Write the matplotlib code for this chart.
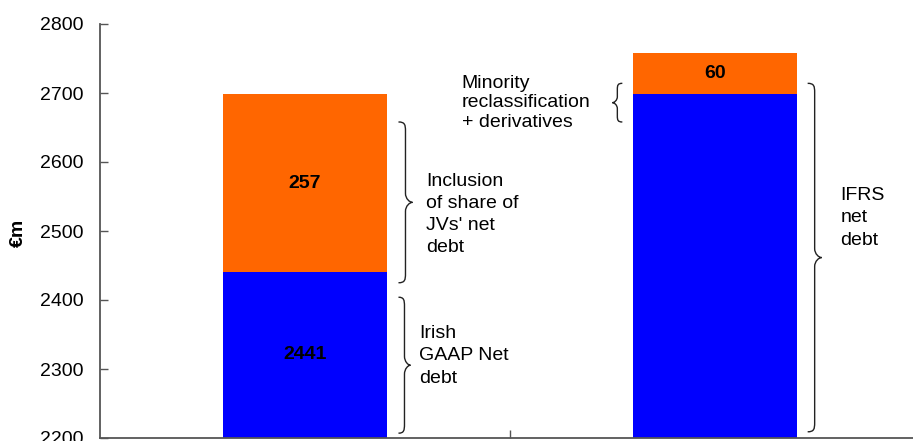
import matplotlib
matplotlib.use("Agg")
import matplotlib.pyplot as plt
from matplotlib.path import Path
from matplotlib.patches import PathPatch

plt.rcParams['font.family'] = ['Liberation Sans', 'DejaVu Sans']

# Net debt bridge: Irish GAAP -> IFRS (EUR m)
categories = ["Irish GAAP", "IFRS"]
base_values = [2441, 2698]
adjustments = [257, 60]
base_labels = ["2441", None]
adj_labels = ["257", "60"]
y_ticks = [2200, 2300, 2400, 2500, 2600, 2700, 2800]

BLUE = "#0000FF"
ORANGE = "#FF6600"
FS = 14

fig = plt.figure(figsize=(9.13, 4.41), dpi=100)
ax = fig.add_axes([100 / 913, 3 / 441, 820 / 913, 414 / 441])

x = list(range(len(categories)))
ax.bar(x, base_values, width=0.4, color=BLUE, zorder=2)
ax.bar(x, adjustments, bottom=base_values, width=0.4, color=ORANGE, zorder=2)

ax.set_xlim(-0.5, 1.5)
ax.set_ylim(y_ticks[0], y_ticks[-1])
ax.set_yticks(y_ticks)
ax.set_xticks([0.5])
ax.set_xticklabels([])

ylo = ax.get_ylim()[0]
for xi, b, a, bl, al in zip(x, base_values, adjustments, base_labels, adj_labels):
    if bl:
        ax.text(xi, (max(ylo, 0) + b) / 2, bl, ha="center", va="center",
                fontsize=FS, fontweight="bold", zorder=3)
    if al:
        ax.text(xi, b + a / 2, al, ha="center", va="center",
                fontsize=FS, fontweight="bold", zorder=3)

for s in ("top", "right"):
    ax.spines[s].set_visible(False)
for s in ("left", "bottom"):
    ax.spines[s].set_color("#555555")
    ax.spines[s].set_linewidth(1.3)
ax.tick_params(axis="y", direction="in", length=6, width=1, color="#555555",
               labelsize=FS, pad=12)
ax.tick_params(axis="x", direction="in", length=6, width=1, color="#555555")

fig.text(18 / 913, 1 - 233 / 441, "€m", rotation=90, ha="center", va="center",
         fontsize=FS, fontweight="bold")


def brace(ax, xpos, y0, y1, depth_px, r_px=9, lw=1.0):
    """Curly brace spanning y0..y1 (data) at xpos; depth_px > 0 points right."""
    fig.canvas.draw()
    (px, pb) = ax.transData.transform((xpos, y0))
    (_, pt) = ax.transData.transform((xpos, y1))
    w = depth_px
    h = w / 2
    ym = (pb + pt) / 2
    r = r_px
    verts = [
        (px, pt),
        (px + h * 0.9, pt), (px + h, pt - r * 0.3), (px + h, pt - r),
        (px + h, ym + r),
        (px + h, ym + r * 0.4), (px + w * 0.8, ym), (px + w, ym),
        (px + w * 0.8, ym), (px + h, ym - r * 0.4), (px + h, ym - r),
        (px + h, pb + r),
        (px + h, pb + r * 0.3), (px + h * 0.9, pb), (px, pb),
    ]
    codes = [Path.MOVETO,
             Path.CURVE4, Path.CURVE4, Path.CURVE4,
             Path.LINETO,
             Path.CURVE4, Path.CURVE4, Path.CURVE4,
             Path.CURVE4, Path.CURVE4, Path.CURVE4,
             Path.LINETO,
             Path.CURVE4, Path.CURVE4, Path.CURVE4]
    patch = PathPatch(Path(verts, codes), facecolor="none", edgecolor="#222222",
                      lw=lw, transform=None, clip_on=False)
    fig.add_artist(patch)


brace(ax, 0.228, 2425, 2658, 14)
brace(ax, 0.228, 2207, 2404, 12)
brace(ax, 0.774, 2658, 2714, -10, r_px=6)
brace(ax, 1.226, 2209, 2714, 14)

ax.text(0.296, 2524, "Inclusion\nof share of\nJVs' net\ndebt", ha="left",
        va="center", fontsize=FS, linespacing=1.4)
ax.text(0.279, 2319, "Irish\nGAAP Net\ndebt", ha="left", va="center",
        fontsize=FS, linespacing=1.4)
ax.text(0.382, 2686, "Minority\nreclassification\n+ derivatives", ha="left",
        va="center", fontsize=FS, linespacing=1.2)
ax.text(1.306, 2519, "IFRS\nnet\ndebt", ha="left", va="center",
        fontsize=FS, linespacing=1.45)

fig.savefig("out.png", dpi=100)
